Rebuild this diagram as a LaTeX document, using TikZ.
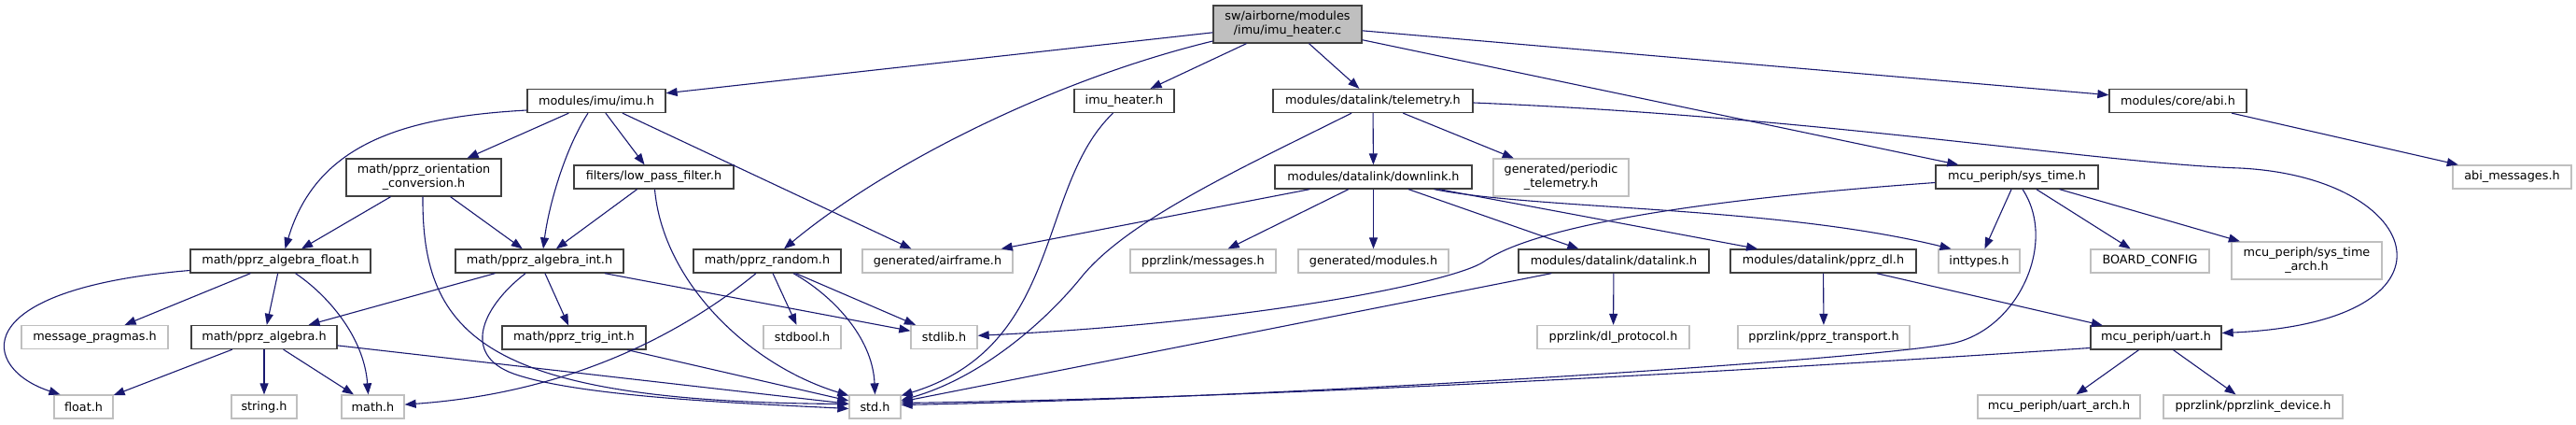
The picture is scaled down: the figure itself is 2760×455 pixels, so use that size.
\documentclass[tikz,border=0pt]{standalone}
\usepackage{fontspec}
\setmainfont{DejaVu Sans}
\usetikzlibrary{arrows.meta}
\definecolor{dgray}{HTML}{404040}
\definecolor{lgray}{HTML}{BFBFBF}
\definecolor{mblue}{HTML}{191970}
\begin{document}
\begin{tikzpicture}[x=1pt,y=-1pt,
  dn/.style={draw=dgray, line width=1.3pt, fill=white, inner sep=0pt, minimum height=25pt, align=center, font=\fontsize{12.8}{15}\selectfont},
  gn/.style={dn, draw=lgray},
  dep/.style={draw=mblue, line width=1.1pt, -{Triangle[length=12pt,width=9pt]}, fill=none}]
\useasboundingbox (0,0) rectangle (2760,455);
\fill[white] (0,0) rectangle (2760,455);
% nodes
\node[dn, fill=lgray, minimum width=159pt, minimum height=40pt] (root) at (1379.5,26) {sw/airborne/modules\\/imu/imu\_heater.c};
\node[dn, minimum width=148pt] (imu) at (639,108) {modules/imu/imu.h};
\node[dn, minimum width=107pt] (imuh) at (1204.5,108) {imu\_heater.h};
\node[dn, minimum width=214pt] (tele) at (1471,108) {modules/datalink/telemetry.h};
\node[dn, minimum width=147pt] (abi) at (2333.5,108) {modules/core/abi.h};
\node[dn, minimum width=166pt, minimum height=40pt] (orient) at (454,190) {math/pprz\_orientation\\\_conversion.h};
\node[dn, minimum width=171pt] (lpf) at (700.5,189.5) {filters/low\_pass\_filter.h};
\node[dn, minimum width=211pt] (down) at (1471.5,189.5) {modules/datalink/downlink.h};
\node[gn, minimum width=145pt, minimum height=40pt] (periodic) at (1672.5,190) {generated/periodic\\\_telemetry.h};
\node[dn, minimum width=174pt] (systime) at (2161,189.5) {mcu\_periph/sys\_time.h};
\node[gn, minimum width=127pt] (abimsg) at (2691.5,189.5) {abi\_messages.h};
\node[dn, minimum width=193pt] (algfloat) at (300.5,279.5) {math/pprz\_algebra\_float.h};
\node[dn, minimum width=180pt] (algint) at (578,279.5) {math/pprz\_algebra\_int.h};
\node[dn, minimum width=158pt] (random) at (822,279.5) {math/pprz\_random.h};
\node[gn, minimum width=161pt] (airframe) at (1004.5,279.5) {generated/airframe.h};
\node[gn, minimum width=156pt] (messages) at (1289,279.5) {pprzlink/messages.h};
\node[gn, minimum width=161pt] (modules) at (1471.5,279.5) {generated/modules.h};
\node[dn, minimum width=204pt] (datalink) at (1729,279.5) {modules/datalink/datalink.h};
\node[dn, minimum width=199pt] (pprzdl) at (1953.5,279.5) {modules/datalink/pprz\_dl.h};
\node[gn, minimum width=87pt] (inttypes) at (2120.5,279.5) {inttypes.h};
\node[gn, minimum width=127pt] (board) at (2303.5,279.5) {BOARD\_CONFIG};
\node[gn, minimum width=161pt, minimum height=40pt] (systimearch) at (2471.5,279) {mcu\_periph/sys\_time\\\_arch.h};
\node[gn, minimum width=157pt] (msgpragmas) at (101.5,361) {message\_pragmas.h};
\node[dn, minimum width=156pt] (alg) at (283,361) {math/pprz\_algebra.h};
\node[dn, minimum width=154pt] (trig) at (615,361.5) {math/pprz\_trig\_int.h};
\node[gn, minimum width=83pt] (stdbool) at (859.5,361) {stdbool.h};
\node[gn, minimum width=71pt] (stdlib) at (1011.5,361) {stdlib.h};
\node[gn, minimum width=163pt] (dlproto) at (1728.5,361) {pprzlink/dl\_protocol.h};
\node[gn, minimum width=184pt] (transport) at (1954,361) {pprzlink/pprz\_transport.h};
\node[dn, minimum width=140pt] (uart) at (2310,361.5) {mcu\_periph/uart.h};
\node[gn, minimum width=63pt] (floath) at (89.5,435.5) {float.h};
\node[gn, minimum width=70pt] (string) at (283,435.5) {string.h};
\node[gn, minimum width=67pt] (math) at (399.5,435.5) {math.h};
\node[gn, minimum width=55pt] (std) at (937.5,435.5) {std.h};
\node[gn, minimum width=174pt] (uartarch) at (2206,435.5) {mcu\_periph/uart\_arch.h};
\node[gn, minimum width=192pt] (device) at (2414,435.5) {pprzlink/pprzlink\_device.h};
% root edges
\draw[dep] (root) -- (imu);
\draw[dep] ([shift={(0,18)}]root.west) .. controls (1130,85) and (950,175) .. ([shift={(18,0)}]random.north);
\draw[dep] (root) -- (imuh);
\draw[dep] (root) -- (tele);
\draw[dep] (root) -- (abi);
\draw[dep] (root) -- (systime);
% imu
\draw[dep] ([shift={(0,10)}]imu.west) .. controls (440,125) and (340,150) .. ([shift={(5,0)}]algfloat.north);
\draw[dep] (imu) -- (orient);
\draw[dep] ([shift={(-9,0)}]imu.south) .. controls (605,160) and (588,220) .. ([shift={(4,0)}]algint.north);
\draw[dep] (imu) -- (lpf);
\draw[dep] (imu) -- (airframe);
% orient
\draw[dep] (orient) -- (algfloat);
\draw[dep] (orient) -- (algint);
\draw[dep] ([shift={(-1,0)}]orient.south) .. controls (452,360) and (520,430) .. ([shift={(0,-3)}]std.west);
% lpf
\draw[dep] (lpf) -- (algint);
\draw[dep] ([shift={(1,0)}]lpf.south) .. controls (710,300) and (800,390) .. ([shift={(0,-12)}]std.west);
% algfloat
\draw[dep] ([shift={(0,10)}]algfloat.west) .. controls (-40,310) and (-20,395) .. ([shift={(-25,0)}]floath.north);
\draw[dep] (algfloat) -- (msgpragmas);
\draw[dep] (algfloat) -- (alg);
\draw[dep] ([shift={(16,0)}]algfloat.south) .. controls (350,315) and (390,360) .. ([shift={(-5,0)}]math.north);
% algint
\draw[dep] (algint) -- (alg);
\draw[dep] ([shift={(-15,0)}]algint.south) .. controls (515,330) and (495,380) .. (550,400) .. controls (620,425) and (800,432) .. ([shift={(0,2)}]std.west);
\draw[dep] (algint) -- (trig);
\draw[dep] (algint) -- (stdlib);
% alg
\draw[dep] (alg) -- (floath);
\draw[dep] (alg) -- (string);
\draw[dep] (alg) -- (math);
\draw[dep] (alg) -- (std);
% trig
\draw[dep] (trig) -- (std);
% random
\draw[dep] ([shift={(-12,0)}]random.south) .. controls (740,350) and (620,420) .. (math);
\draw[dep] (random) -- (stdbool);
\draw[dep] (random) -- (stdlib);
\draw[dep] ([shift={(28,0)}]random.south) .. controls (890,315) and (935,360) .. (std.north);
% imu_heater.h
\draw[dep] ([shift={(-12,0)}]imuh.south) .. controls (1110,200) and (1140,370) .. ([shift={(0,-12)}]std.east);
% telemetry
\draw[dep] ([shift={(-23,0)}]tele.south) .. controls (1330,180) and (1210,235) .. (1160,295) .. controls (1120,345) and (1050,405) .. ([shift={(0,-7)}]std.east);
\draw[dep] (tele) -- (down);
\draw[dep] (tele) -- (periodic);
\draw[dep] ([shift={(0,2)}]tele.east) .. controls (1950,125) and (2250,175) .. (2400,180) .. controls (2600,190) and (2650,345) .. ([shift={(0,-5)}]uart.east);
% downlink
\draw[dep] (down) -- (airframe);
\draw[dep] (down) -- (messages);
\draw[dep] (down) -- (modules);
\draw[dep] (down) -- (datalink);
\draw[dep] (down) -- (pprzdl);
\draw[dep] ([shift={(65,0)}]down.south) .. controls (1650,225) and (1900,220) .. ([shift={(-30,0)}]inttypes.north);
% datalink
\draw[dep] (datalink) -- (dlproto);
\draw[dep] (datalink) -- (std);
% pprz_dl
\draw[dep] (pprzdl) -- (transport);
\draw[dep] (pprzdl) -- (uart);
% sys_time
\draw[dep] ([shift={(0,6)}]systime.west) .. controls (1800,215) and (1640,245) .. (1590,280) .. controls (1560,301) and (1350,345) .. (stdlib);
\draw[dep] (systime) -- (inttypes);
\draw[dep] ([shift={(6,0)}]systime.south) .. controls (2205,260) and (2162,354) .. (2090,368) .. controls (2000,385) and (1400,425) .. ([shift={(0,-2)}]std.east);
\draw[dep] (systime) -- (board);
\draw[dep] (systime) -- (systimearch);
% uart
\draw[dep] ([shift={(0,11)}]uart.west) .. controls (1900,395) and (1400,425) .. ([shift={(0,-4)}]std.east);
\draw[dep] (uart) -- (uartarch);
\draw[dep] (uart) -- (device);
% abi
\draw[dep] (abi) -- (abimsg);
\end{tikzpicture}
\end{document}
